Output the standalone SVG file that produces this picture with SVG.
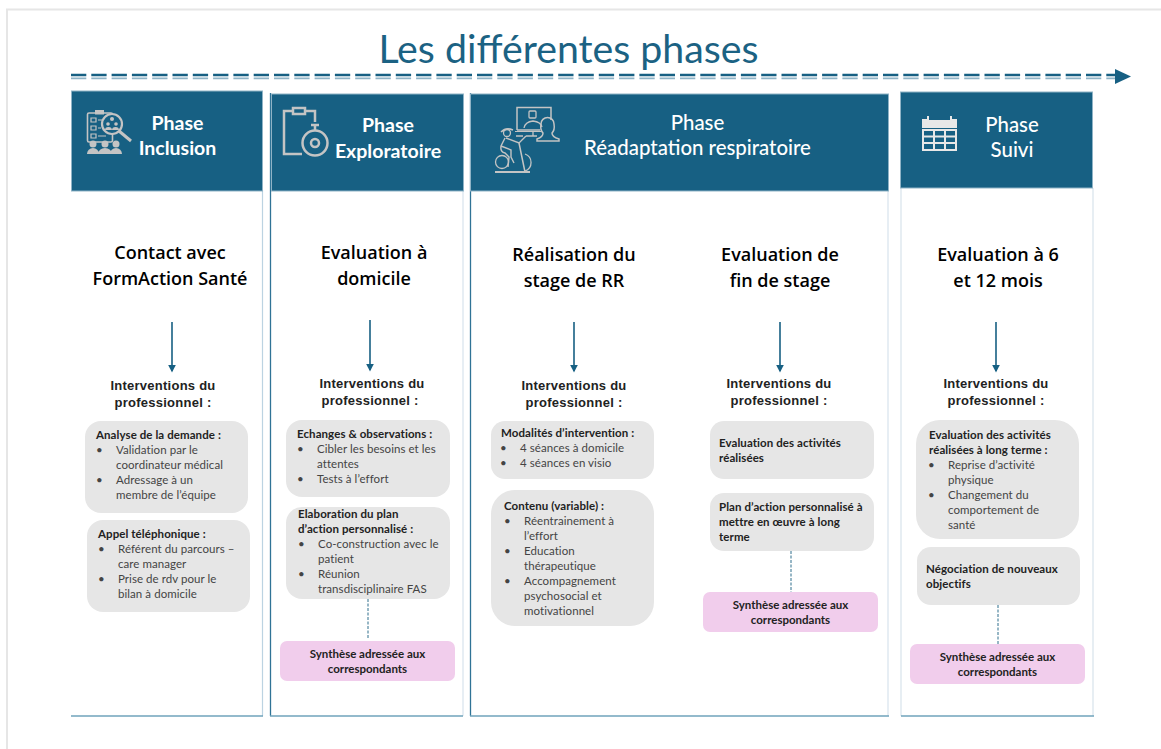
<svg xmlns="http://www.w3.org/2000/svg" width="1161" height="749" viewBox="0 0 1161 749">
<style>
text{font-family:"Lato","Carlito","Open Sans",sans-serif;fill:#2b2b2b}
.hd{font-size:19.500px;font-weight:700;fill:#fff;text-anchor:middle}
.hr{font-size:20.400px;font-weight:500;fill:#fff;text-anchor:middle}
.t{font-family:"Open Sans","Liberation Sans",sans-serif;font-size:18px;font-weight:600;fill:#000;text-anchor:middle}
.iv{font-family:"Liberation Sans",Arial,sans-serif;font-size:13px;font-weight:700;fill:#222;text-anchor:middle;letter-spacing:.25px}
.b{font-size:11.500px;font-weight:700;fill:#222;letter-spacing:.08px}
.r{font-size:11.500px;fill:#444;letter-spacing:.06px}
.c{font-size:11.500px;font-weight:700;fill:#222;text-anchor:middle}
.g{fill:#e6e6e6}
.p{fill:#f1cdec}
.side{stroke:#bcd3e2;stroke-width:1.200;fill:none}
.side2{stroke:#dfe9f0;stroke-width:1.500;fill:none}
.dk{stroke:#2f7396;stroke-width:1.300;fill:none}
.base{stroke:#6fa3bb;stroke-width:1.400;fill:none}
.head{fill:#176083;stroke:#8fb3c6;stroke-width:1}
.ar{stroke:#176083;stroke-width:1.600;fill:none;marker-end:url(#a)}
.ds{stroke:#2f6f8c;stroke-width:1;stroke-dasharray:3 1.500;fill:none}
.ico{fill:none;stroke:#c4c4c4}
.icf{fill:#c4c4c4;stroke:none}
</style>
<defs>
<marker id="a" markerWidth="6" markerHeight="6" refX="4" refY="3" orient="auto"><path d="M0,0.500 L5,3 L0,5.500 Z" fill="#176083"/></marker>
</defs>
<rect width="1161" height="749" fill="#fff"/>
<path d="M7,749 V9.500 H1161" fill="none" stroke="#e6e6e6" stroke-width="2"/>
<text id="title" x="568.500" y="63" style="font-size:39.300px;fill:#1b6283;text-anchor:middle;font-family:'Lato','Open Sans',sans-serif">Les différentes phases</text>
<g id="timeline">
<path d="M71,75 H1116" stroke="#176083" stroke-width="2.400" stroke-dasharray="15.300 5"/>
<path d="M71,78.400 H1116" stroke="#8fb3c6" stroke-width="1.800" stroke-dasharray="15.300 5"/>
<path d="M1115,69 L1131,76.500 L1115,84 Z" fill="#176083"/>
</g>

<g id="phase-inclusion">
<path class="side" d="M262.500,190 V716"/>
<path class="base" d="M71,716 H263"/>
<rect class="head" x="71.500" y="91" width="191" height="100"/>
<g id="icon-inclusion">
<rect class="ico" x="87.500" y="113" width="25" height="29" rx="1.500" stroke-width="1.600"/>
<rect class="icf" x="95" y="110" width="9" height="4.500"/>
<path class="ico" stroke-width="1.200" d="M91,118h5v4h-5zM91,126h5v4h-5zM91,134h5v4h-5zM98,120h4M98,128h3M98,136h8"/>
<circle cx="112" cy="124" r="10" fill="#176083" stroke="#c4c4c4" stroke-width="2.200"/>
<path d="M119,131 L131,141" stroke="#c4c4c4" stroke-width="3"/>
<circle class="icf" cx="112" cy="119" r="2"/><circle class="icf" cx="108" cy="124" r="1.800"/><circle class="icf" cx="116" cy="124" r="1.800"/>
<path class="icf" d="M105,130a3.500,3 0 0 1 7,0zM112,130a3.500,3 0 0 1 7,0z"/>
<circle class="icf" cx="93" cy="144" r="3.500"/><circle class="icf" cx="105" cy="144" r="3.500"/><circle class="icf" cx="116" cy="144" r="3.500"/>
<path class="icf" d="M87,154a6,6 0 0 1 12,0zM98,154a7,6 0 0 1 14,0zM110,154a6,6 0 0 1 12,0z"/>
</g>
<text class="hd" x="177.500" y="130">Phase</text>
<text class="hd" x="177.500" y="155">Inclusion</text>
<text class="t" x="170" y="259">Contact avec</text>
<text class="t" x="170" y="285">FormAction Santé</text>
<path class="ar" d="M172,322 V371"/>
<text class="iv" x="163" y="390">Interventions du</text>
<text class="iv" x="163" y="407">professionnel :</text>
<rect id="inc1" class="g" x="85" y="421" width="163" height="92" rx="16"/>
<text class="b" x="96" y="439">Analyse de la demande :</text>
<text class="r" x="96" y="454">•</text><text class="r" x="116" y="454">Validation par le</text>
<text class="r" x="116" y="469">coordinateur médical</text>
<text class="r" x="96" y="484">•</text><text class="r" x="116" y="484">Adressage à un</text>
<text class="r" x="116" y="499">membre de l’équipe</text>
<rect id="inc2" class="g" x="87" y="520" width="163" height="92" rx="16"/>
<text class="b" x="98" y="538">Appel téléphonique :</text>
<text class="r" x="98" y="553">•</text><text class="r" x="118" y="553">Référent du parcours –</text>
<text class="r" x="118" y="568">care manager</text>
<text class="r" x="98" y="583">•</text><text class="r" x="118" y="583">Prise de rdv pour le</text>
<text class="r" x="118" y="598">bilan à domicile</text>
</g>

<g id="phase-exploratoire">
<path class="dk" d="M270.500,93 V716"/>
<path class="side2" d="M463,190 V716"/>
<path class="base" d="M270,716 H463"/>
<rect class="head" x="271.500" y="94" width="192" height="97"/>
<g id="icon-exploratoire" class="ico" stroke-width="2.500">
<path d="M293,111 H284 V154 H302 M304,111 H315 V122"/>
<rect x="293" y="108" width="12" height="6"/>
<path d="M311,125 H319 M315,125 V130"/>
<circle cx="315" cy="143" r="12.500"/>
<circle cx="315" cy="143" r="4"/>
</g>
<text class="hd" x="388" y="132">Phase</text>
<text class="hd" x="388" y="158">Exploratoire</text>
<text class="t" x="374" y="259">Evaluation à</text>
<text class="t" x="374" y="285">domicile</text>
<path class="ar" d="M370,320 V370"/>
<text class="iv" x="372" y="388">Interventions du</text>
<text class="iv" x="370" y="405">professionnel :</text>
<rect id="exp1" class="g" x="286" y="420" width="164" height="77" rx="16"/>
<text class="b" x="297" y="438">Echanges &amp; observations :</text>
<text class="r" x="297" y="453">•</text><text class="r" x="317" y="453">Cibler les besoins et les</text>
<text class="r" x="317" y="468">attentes</text>
<text class="r" x="297" y="483">•</text><text class="r" x="317" y="483">Tests à l’effort</text>
<rect id="exp2" class="g" x="286" y="507" width="164" height="92" rx="16"/>
<text class="b" x="298" y="518">Elaboration du plan</text>
<text class="b" x="298" y="533">d’action personnalisé  :</text>
<text class="r" x="298" y="548">•</text><text class="r" x="318" y="548">Co-construction avec le</text>
<text class="r" x="318" y="563">patient</text>
<text class="r" x="298" y="578">•</text><text class="r" x="318" y="578">Réunion</text>
<text class="r" x="318" y="593">transdisciplinaire FAS</text>
<path class="ds" d="M368,599 V638"/>
<rect id="exp3" class="p" x="280" y="641" width="175" height="40" rx="7"/>
<text class="c" x="367.500" y="658">Synthèse adressée aux</text>
<text class="c" x="367.500" y="673">correspondants</text>
</g>

<g id="phase-readaptation">
<path class="dk" d="M470.500,93 V716"/>
<path class="side2" d="M888,190 V716"/>
<path class="base" d="M470,716 H889"/>
<rect class="head" x="470.500" y="94" width="418" height="97"/>
<g id="icon-readaptation" class="ico" stroke-width="1.500">
<path d="M517,130 V107.500 H551 V120 M517,130 H540"/>
<path d="M515,131.500 H541" stroke-width="1"/>
<rect x="529" y="111" width="7" height="7" rx="1" stroke-width="1.300"/>
<path d="M524,128 q1,-6 9,-7 q8,1 9,6" stroke-width="1.300"/>
<path d="M537,141 V139 q6,-2 6,-6 q-3,-3 -2,-9 a6.500,6.500 0 0 1 13,0 q1,6 -2,9 q0,4 7,6 V141 Z"/>
<path d="M526,136 H537 M533,131 V136" stroke-width="1.300"/>
<circle cx="507" cy="133" r="3.500" stroke-width="1.300"/>
<path d="M501,132 Q506,127 513,130" stroke-width="1.500"/>
<path d="M505,138 L501,146 Q500,152 505,153 L509,157 L508,167 M506,138 L519,143 L526,136 M501,146 L511,150 L511,157 L514,163" stroke-width="1.400"/>
<path d="M519,143 L525,172 M516,136 L523,136" stroke-width="1.500"/>
<circle cx="502" cy="162" r="6.500" stroke-width="1.300"/>
<path d="M525,154 A9,9 0 0 1 525,171" stroke-width="1.300"/>
<path d="M495,172 H530" stroke-width="2.200"/>
</g>
<text class="hr" x="697.500" y="130">Phase</text>
<text class="hr" x="697.500" y="155">Réadaptation respiratoire</text>
<text class="t" x="574" y="261">Réalisation du</text>
<text class="t" x="574" y="287">stage de RR</text>
<path class="ar" d="M574,322 V371"/>
<text class="iv" x="574" y="390">Interventions du</text>
<text class="iv" x="574" y="407">professionnel :</text>
<rect id="rea1" class="g" x="491" y="421" width="163" height="58" rx="14"/>
<text class="b" x="501" y="437">Modalités d’intervention :</text>
<text class="r" x="500" y="452">•</text><text class="r" x="520" y="452">4 séances à domicile</text>
<text class="r" x="500" y="467">•</text><text class="r" x="520" y="467">4 séances en visio</text>
<rect id="rea2" class="g" x="491" y="490" width="163" height="136" rx="24"/>
<text class="b" x="504" y="510">Contenu (variable) :</text>
<text class="r" x="504" y="525">•</text><text class="r" x="524" y="525">Réentrainement à</text>
<text class="r" x="524" y="540">l’effort</text>
<text class="r" x="504" y="555">•</text><text class="r" x="524" y="555">Education</text>
<text class="r" x="524" y="570">thérapeutique</text>
<text class="r" x="504" y="585">•</text><text class="r" x="524" y="585">Accompagnement</text>
<text class="r" x="524" y="600">psychosocial et</text>
<text class="r" x="524" y="615">motivationnel</text>
<text class="t" x="780" y="261">Evaluation de</text>
<text class="t" x="780" y="287">fin de stage</text>
<path class="ar" d="M780,322 V371"/>
<text class="iv" x="779" y="388">Interventions du</text>
<text class="iv" x="779" y="405">professionnel :</text>
<rect id="rea3" class="g" x="710" y="421" width="164" height="58" rx="14"/>
<text class="b" x="719" y="447">Evaluation des activités</text>
<text class="b" x="719" y="462">réalisées</text>
<rect id="rea4" class="g" x="710" y="493" width="164" height="58" rx="14"/>
<text class="b" x="719" y="511">Plan d’action personnalisé à</text>
<text class="b" x="719" y="526">mettre en œuvre à long</text>
<text class="b" x="719" y="541">terme</text>
<path class="ds" d="M791,551 V592"/>
<rect id="rea5" class="p" x="703" y="592" width="175" height="40" rx="7"/>
<text class="c" x="790.500" y="609">Synthèse adressée aux</text>
<text class="c" x="790.500" y="624">correspondants</text>
</g>

<g id="phase-suivi">
<path class="side2" d="M901,188 V716 M1093,188 V716"/>
<path class="base" d="M901,716 H1094"/>
<rect class="head" x="900.500" y="92" width="192" height="96"/>
<g id="icon-suivi">
<path d="M922,119 H927 V116 H929 V120 H950 V116 H952 V119 H957 V128 H922 Z" fill="#e8e8e8"/>
<rect x="923" y="130" width="33" height="20" fill="none" stroke="#e8e8e8" stroke-width="2"/>
<path d="M923,136.500 H956 M923,143 H956 M934,130 V150 M945,130 V150" stroke="#e8e8e8" stroke-width="2"/>
</g>
<text class="hr" x="1012" y="132">Phase</text>
<text class="hr" x="1012" y="157">Suivi</text>
<text class="t" x="998" y="261">Evaluation à 6</text>
<text class="t" x="998" y="287">et 12 mois</text>
<path class="ar" d="M996,322 V371"/>
<text class="iv" x="996" y="388">Interventions du</text>
<text class="iv" x="996" y="405">professionnel :</text>
<rect id="sui1" class="g" x="916" y="420" width="163" height="119" rx="24"/>
<text class="b" x="929" y="439">Evaluation des activités</text>
<text class="b" x="929" y="454">réalisées à long terme :</text>
<text class="r" x="928" y="469">•</text><text class="r" x="948" y="469">Reprise d’activité</text>
<text class="r" x="948" y="484">physique</text>
<text class="r" x="928" y="499">•</text><text class="r" x="948" y="499">Changement du</text>
<text class="r" x="948" y="514">comportement de</text>
<text class="r" x="948" y="529">santé</text>
<rect id="sui2" class="g" x="917" y="547" width="163" height="58" rx="14"/>
<text class="b" x="926" y="573">Négociation de nouveaux</text>
<text class="b" x="926" y="588">objectifs</text>
<path class="ds" d="M998,605 V644"/>
<rect id="sui3" class="p" x="910" y="644" width="175" height="40" rx="7"/>
<text class="c" x="997.500" y="661">Synthèse adressée aux</text>
<text class="c" x="997.500" y="676">correspondants</text>
</g>
</svg>
